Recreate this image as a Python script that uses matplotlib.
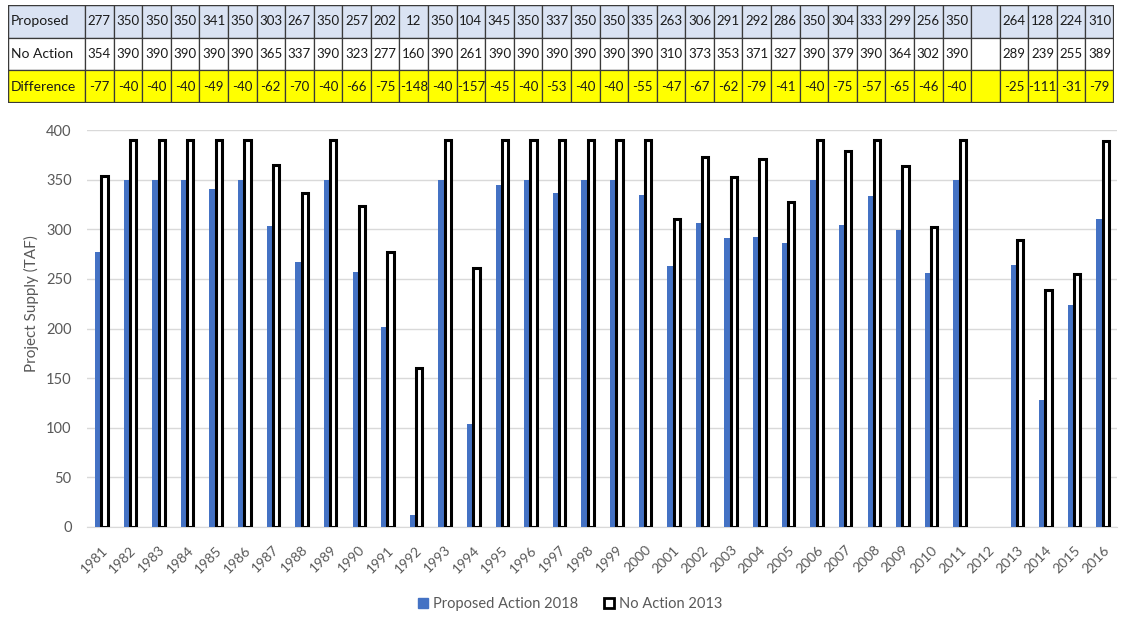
import numpy as np
import matplotlib
matplotlib.use('Agg')
import matplotlib.pyplot as plt
from matplotlib.patches import Patch, Rectangle

# Annual project supply (TAF); 2012 has no entry in either scenario
years = list(range(1981, 2017))
proposed = [277, 350, 350, 350, 341, 350, 303, 267, 350, 257, 202, 12, 350, 104,
            345, 350, 337, 350, 350, 335, 263, 306, 291, 292, 286, 350, 304, 333,
            299, 256, 350, None, 264, 128, 224, 310]
no_action = [354, 390, 390, 390, 390, 390, 365, 337, 390, 323, 277, 160, 390, 261,
             390, 390, 390, 390, 390, 390, 310, 373, 353, 371, 327, 390, 379, 390,
             364, 302, 390, None, 289, 239, 255, 389]
row_labels = ['Proposed', 'No Action', 'Difference']

BLUE = '#4472C4'
GREY = '#595959'

prop = np.array([np.nan if v is None else v for v in proposed], dtype=float)
noact = np.array([np.nan if v is None else v for v in no_action], dtype=float)
diff = prop - noact

W, H = 1128, 629
fig = plt.figure(figsize=(W / 100, H / 100), dpi=100)
plt.rcParams['font.family'] = ['Lato', 'DejaVu Sans']

# ---- summary table across the top ----
tab = fig.add_axes([8 / W, 1 - 103 / H, (1114 - 8) / W, 98 / H])
label_w = 77.0
col_w = (1114 - 8 - label_w) / len(years)
tab.set_xlim(0, label_w + col_w * len(years))
tab.set_ylim(3, 0)
tab.axis('off')

row_fill = ['#DAE3F3', 'white', '#FFFF00']
row_vals = [prop, noact, diff]
tfont = dict(fontsize=9.5, color='#1a1a1a')
for r in range(3):
    tab.add_patch(Rectangle((0, r), label_w, 1, facecolor=row_fill[r], edgecolor='#3a3a3a', lw=0.9))
    tab.text(3, r + 0.5, row_labels[r], ha='left', va='center', fontsize=10, color='#1a1a1a')
    for c, v in enumerate(row_vals[r]):
        x0 = label_w + c * col_w
        tab.add_patch(Rectangle((x0, r), col_w, 1, facecolor=row_fill[r], edgecolor='#3a3a3a', lw=0.9))
        if not np.isnan(v):
            tab.text(x0 + col_w / 2, r + 0.5, f'{int(v)}', ha='center', va='center', **tfont)
tab.add_patch(Rectangle((0, 0), label_w + col_w * len(years), 3, fill=False, edgecolor='#3a3a3a', lw=1.6))

# ---- clustered bar chart ----
ax = fig.add_axes([87 / W, (H - 527) / H, (1117 - 87) / W, (527 - 130) / H])
x = np.arange(len(years))
bw = 0.22
ax.bar(x - bw / 2, prop, width=bw, color=BLUE, label='Proposed Action 2018', zorder=3)
ax.bar(x + bw / 2, noact, width=bw, facecolor='white', edgecolor='black', linewidth=2.2,
       label='No Action 2013', zorder=3)

ax.set_xlim(-0.5, len(years) - 0.5)
ax.set_ylim(0, 400)
ax.set_yticks(range(0, 401, 50))
ax.set_xticks(x)
ax.set_xticklabels([str(y) for y in years], rotation=45, ha='right', rotation_mode='anchor')
ax.tick_params(axis='both', length=0, colors=GREY)
ax.tick_params(axis='x', pad=12, labelsize=10)
ax.tick_params(axis='y', pad=11, labelsize=10.5)
ax.yaxis.grid(True, color='#D9D9D9', lw=1, zorder=0)
for s in ['top', 'right', 'left']:
    ax.spines[s].set_visible(False)
ax.spines['bottom'].set_color('#D9D9D9')
ax.set_ylabel('Project Supply (TAF)', color=GREY, fontsize=11)
ax.yaxis.set_label_coords(-0.047, 0.564)

handles = [Patch(facecolor=BLUE, edgecolor=BLUE),
           Patch(facecolor='white', edgecolor='black', lw=2)]
fig.legend(handles, ['Proposed Action 2018', 'No Action 2013'], loc='center',
           bbox_to_anchor=(570 / W, 1 - 604 / H), ncol=2, frameon=False,
           fontsize=10.5, labelcolor=GREY, handlelength=0.7, handleheight=0.7,
           handletextpad=0.3, columnspacing=1.8)

fig.savefig('out.png', dpi=100)
